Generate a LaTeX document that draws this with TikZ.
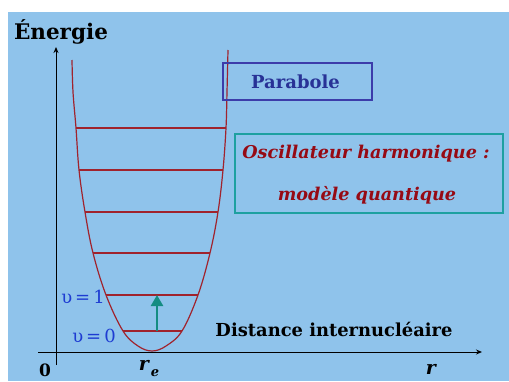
\documentclass[tikz,border=0pt]{standalone}
\usepackage{fontspec}
\setmainfont{DejaVu Serif}
\usetikzlibrary{arrows.meta}
\definecolor{bgblue}{RGB}{143,195,235}
\definecolor{curvered}{RGB}{160,35,45}
\definecolor{parablue}{RGB}{60,60,170}
\definecolor{paratext}{RGB}{40,50,150}
\definecolor{oscteal}{RGB}{30,160,160}
\definecolor{oscred}{RGB}{150,10,20}
\definecolor{levblue}{RGB}{30,60,210}
\definecolor{arrteal}{RGB}{20,140,130}
\tikzset{
  axis/.style={line width=1pt, black, -{Stealth[length=6pt,width=5pt]}},
  curve/.style={line width=1.2pt, curvered},
  level/.style={line width=1.2pt, curvered},
  lbl/.style={inner sep=0pt, anchor=center},
}
\begin{document}
\begin{tikzpicture}[x=1pt,y=-1pt]
\useasboundingbox (0,0) rectangle (509,381);
\fill[bgblue] (8,12) rectangle (509,381);
% axes
\coordinate (ybot) at (56,365);
\coordinate (ytop) at (56,47);
\coordinate (xl) at (38,352);
\coordinate (xr) at (482,352);
\draw[axis] (ybot) -- (ytop);
\draw[axis] (xl) -- (xr);
% parabola
\draw[curve] plot[smooth,tension=0.6] coordinates {(72,60) (73,92) (76,128) (79,170) (85,212) (93,253) (106,295) (123,331) (138,346) (152,351) (166,346) (182,331) (198,295) (210,253) (218,212) (223,170) (226,128) (227,92) (228,50)};
% levels
\foreach \y/\a/\b/\n in {128/76/226/l6,170/79/223/l5,212/85/218/l4,253/93/210/l3,295/106/198/l2,331/123/182/l1}{
  \coordinate (\n a) at (\a,\y);
  \coordinate (\n b) at (\b,\y);
  \draw[level] (\n a) -- (\n b);
}
% transition arrow
\coordinate (tr0) at (157,331);
\coordinate (tr1) at (157,295);
\draw[line width=2.4pt, arrteal, -{Triangle[length=11pt,width=12pt]}] (tr0) -- (tr1);
% texts
\node[lbl] (energie) at (61,32) {\fontsize{21.5}{22}\selectfont\bfseries Énergie};
\node[lbl] (v1) at (83,297) {\color{levblue}\fontsize{18}{18}\selectfont υ\kern3pt=\kern3pt1};
\node[lbl] (v0) at (94,336) {\color{levblue}\fontsize{18}{18}\selectfont υ\kern3pt=\kern3pt0};
\node[lbl] (zero) at (45,370) {\fontsize{17}{18}\selectfont\bfseries 0};
\node[lbl] (re) at (144,365) {\fontsize{19}{19}\selectfont\bfseries\itshape r};
\node[lbl] (resub) at (155,373) {\fontsize{13}{13}\selectfont\bfseries\itshape e};
\node[lbl] (r) at (431,369) {\fontsize{19}{19}\selectfont\bfseries\itshape r};
\node[lbl] (dist) at (334,329) {\fontsize{17.9}{18}\selectfont\bfseries Distance internucléaire};
% boxes
\node[draw=parablue, line width=1.2pt, minimum width=149pt, minimum height=37pt, inner sep=0pt] (parabox) at (297.5,81.5) {};
\node[lbl] (para) at (295.5,82) {\color{paratext}\fontsize{18}{18}\selectfont\bfseries Parabole};
\node[draw=oscteal, line width=1.2pt, minimum width=268pt, minimum height=79pt, inner sep=0pt] (oscbox) at (369,173.5) {};
\node[lbl] (osc1) at (366,154) {\color{oscred}\fontsize{17.6}{18}\selectfont\bfseries\itshape Oscillateur harmonique :};
\node[lbl] (osc2) at (367,195) {\color{oscred}\fontsize{17.6}{18}\selectfont\bfseries\itshape modèle quantique};
\end{tikzpicture}
\end{document}
